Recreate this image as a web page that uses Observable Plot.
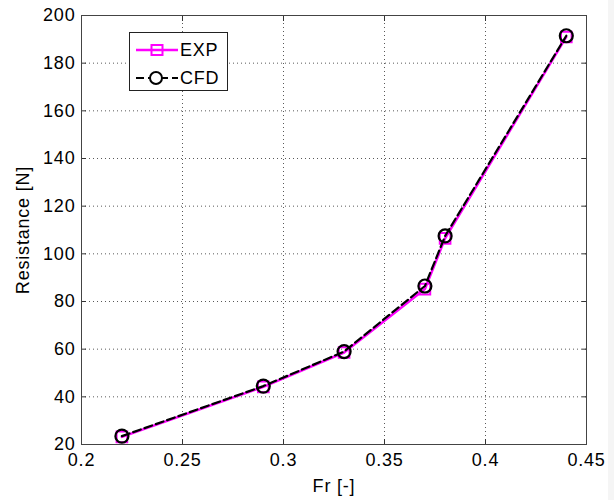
<!DOCTYPE html>
<html>
<head>
<meta charset="utf-8">
<script src="https://cdn.jsdelivr.net/npm/d3@7"></script>
<script src="https://cdn.jsdelivr.net/npm/@observablehq/plot@0.6"></script>
<style>
  html, body { margin: 0; padding: 0; background: #fff; }
  #wrap { position: relative; width: 614px; height: 500px; font-family: "Liberation Sans", Arial, sans-serif; }
  #strip { position: absolute; left: 608px; top: 0; width: 6px; height: 500px; background: #f5f5f5; }
  #legend { position: absolute; left: 129px; top: 32px; width: 97px; height: 57px; border: 1px solid #222; background: #fff; font-size: 18px; letter-spacing: 0.8px; }
  .row { position: absolute; left: 4px; height: 20px; display: flex; align-items: center; }
  .row span { margin-left: 2px; }
</style>
</head>
<body>
<div id="wrap">
  <div id="chart"></div>
  <div id="strip"></div>
  <div id="legend">
    <div class="row" style="top:7px">
      <svg width="44" height="16"><line x1="2" y1="8" x2="44" y2="8" stroke="#ff00ff" stroke-width="2.5"/><rect x="17.5" y="3" width="11" height="10" fill="none" stroke="#ff00ff" stroke-width="2"/></svg>
      <span>EXP</span>
    </div>
    <div class="row" style="top:35px">
      <svg width="44" height="16"><line x1="2" y1="8" x2="44" y2="8" stroke="#000" stroke-width="2.2" stroke-dasharray="8,4"/><circle cx="22" cy="8" r="6" fill="#fff" stroke="#000" stroke-width="2"/></svg>
      <span>CFD</span>
    </div>
  </div>
</div>
<script>
const fr = [0.22, 0.29, 0.33, 0.37, 0.38, 0.44];
const expVals = [23.2, 44.2, 58.6, 85.2, 106.5, 191.0];
const cfdVals = [23.5, 44.5, 59.0, 86.5, 107.5, 191.5];
const xTicks = [0.2, 0.25, 0.3, 0.35, 0.4, 0.45];
const yTicks = [20, 40, 60, 80, 100, 120, 140, 160, 180, 200];

const expData = fr.map((x, i) => ({x, y: expVals[i]}));
const cfdData = fr.map((x, i) => ({x, y: cfdVals[i]}));

const chart = Plot.plot({
  width: 614,
  height: 500,
  marginLeft: 81,
  marginRight: 28,
  marginTop: 15,
  marginBottom: 56,
  style: {fontFamily: "'Liberation Sans', Arial, sans-serif", fontSize: "18px", letterSpacing: "0.8px", background: "#fff", color: "#000"},
  x: {domain: [0.2, 0.45]},
  y: {domain: [20, 200]},
  marks: [
    Plot.gridX(xTicks, {stroke: "#000", strokeOpacity: 0.65, strokeDasharray: "1,3"}),
    Plot.gridY(yTicks, {stroke: "#000", strokeOpacity: 0.65, strokeDasharray: "1,3"}),
    Plot.axisX(xTicks, {anchor: "bottom", tickSize: 0, tickPadding: 9, tickFormat: d => String(d), label: "Fr [-]", labelAnchor: "center", labelArrow: "none", labelOffset: 47}),
    Plot.axisY(yTicks, {anchor: "left", tickSize: 0, tickPadding: 6, tickFormat: d => String(d), label: "Resistance [N]", labelAnchor: "center", labelArrow: "none", labelOffset: 65}),
    Plot.axisX(xTicks, {anchor: "bottom", tickSize: -5, fill: "none", label: null, stroke: "#333"}),
    Plot.axisX(xTicks, {anchor: "top", tickSize: -5, fill: "none", label: null, stroke: "#333"}),
    Plot.axisY(yTicks, {anchor: "left", tickSize: -5, fill: "none", label: null, stroke: "#333"}),
    Plot.axisY(yTicks, {anchor: "right", tickSize: -5, fill: "none", label: null, stroke: "#333"}),
    Plot.frame({stroke: "#444", strokeWidth: 1}),
    Plot.line(expData, {x: "x", y: "y", stroke: "#ff00ff", strokeWidth: 2.5}),
    Plot.dot(expData, {x: "x", y: "y", symbol: "square", r: 6, stroke: "#ff00ff", strokeWidth: 2, fill: "none"}),
    Plot.line(cfdData, {x: "x", y: "y", stroke: "#000", strokeWidth: 2.2, strokeDasharray: "8,4"}),
    Plot.dot(cfdData, {x: "x", y: "y", symbol: "circle", r: 6.5, stroke: "#000", strokeWidth: 2.2, fill: "none"})
  ]
});
document.getElementById("chart").appendChild(chart);
</script>
</body>
</html>
